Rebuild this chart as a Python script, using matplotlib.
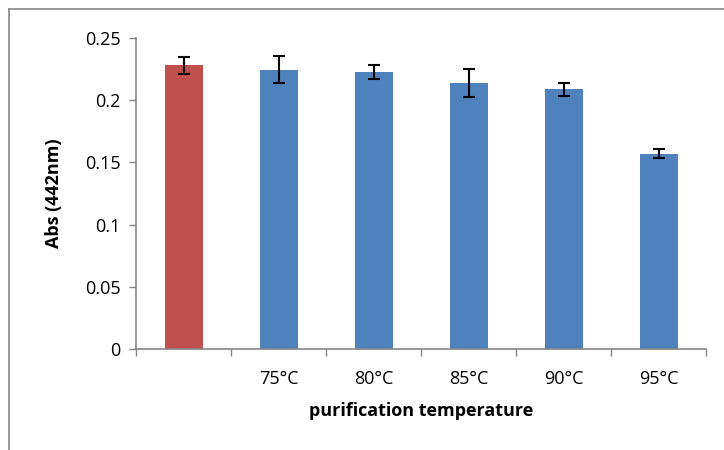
import numpy as np
import matplotlib.pyplot as plt
from matplotlib.lines import Line2D

labels = ["", "75°C", "80°C", "85°C", "90°C", "95°C"]
values = [0.228, 0.2245, 0.2227, 0.2138, 0.2087, 0.1568]
errors = [0.0067, 0.011, 0.0056, 0.0115, 0.0053, 0.0036]
colors = ["#C0504D", "#4F81BD", "#4F81BD", "#4F81BD", "#4F81BD", "#4F81BD"]

plt.rcParams['font.family'] = ['Open Sans', 'DejaVu Sans']

fig = plt.figure(figsize=(7.24, 4.5), dpi=100)
ax = fig.add_axes([136/724, 101/450, 570/724, 311/450])

x = np.arange(len(values))
ax.bar(x, values, width=0.4, color=colors, zorder=2)
ax.errorbar(x, values, yerr=errors, fmt='none', ecolor='black',
            elinewidth=1.5, capsize=4.5, capthick=1.5, zorder=3)

ax.set_xlim(-0.5, len(values) - 0.5)
ax.set_ylim(0, 0.25)
ax.set_yticks([0, 0.05, 0.1, 0.15, 0.2, 0.25])
ax.set_yticklabels(["0", "0.05", "0.1", "0.15", "0.2", "0.25"])

ax.set_xticks(x)
ax.set_xticklabels(labels)
ax.set_xticks(np.arange(-0.5, len(values)), minor=True)
ax.tick_params(axis='x', which='major', length=0, pad=15, labelsize=13)
ax.tick_params(axis='x', which='minor', length=5, width=1, color='#868686', direction='out')
ax.tick_params(axis='y', length=5, width=1, color='#868686', labelsize=13, pad=6)

for s in ['top', 'right']:
    ax.spines[s].set_visible(False)
for s in ['left', 'bottom']:
    ax.spines[s].set_color('#868686')
    ax.spines[s].set_linewidth(1.2)

ax.set_ylabel("Abs (442nm)", fontsize=13, fontweight='bold', labelpad=16)
ax.set_xlabel("purification temperature", fontsize=13, fontweight='bold', labelpad=10)

# outer chart border (top and left)
fig.add_artist(Line2D([9/724, 1], [1 - 9/450, 1 - 9/450], transform=fig.transFigure,
                      color='#868686', lw=1.2))
fig.add_artist(Line2D([9/724, 9/724], [0, 1 - 9/450], transform=fig.transFigure,
                      color='#868686', lw=1.2))

fig.savefig("out.png", dpi=100)
